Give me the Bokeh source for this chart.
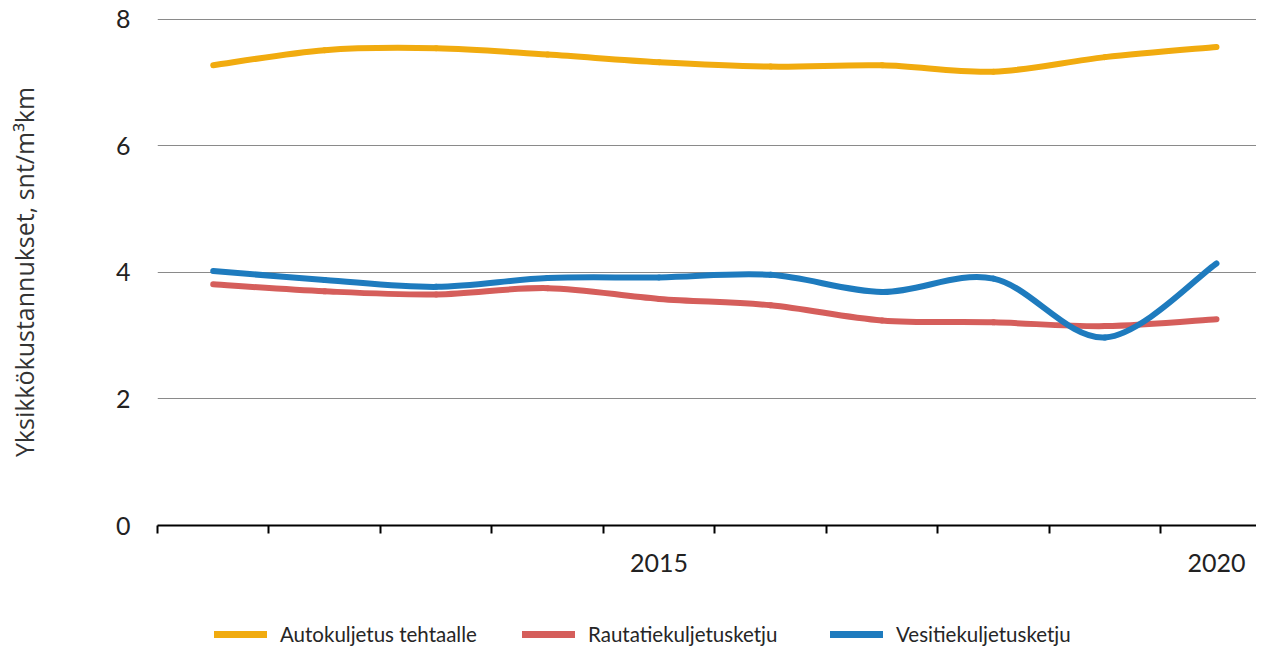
from bokeh.plotting import figure
from bokeh.layouts import column
from bokeh.models import (ColumnDataSource, Range1d, FixedTicker, Legend, LegendItem)
from bokeh.embed import file_html
from bokeh.resources import INLINE

# ---- data ----
years = [2011, 2012, 2013, 2014, 2015, 2016, 2017, 2018, 2019, 2020]
autokuljetus = [7.27, 7.51, 7.54, 7.44, 7.32, 7.25, 7.27, 7.17, 7.40, 7.56]
rautatie = [3.81, 3.70, 3.65, 3.75, 3.58, 3.48, 3.24, 3.21, 3.15, 3.26]
vesitie = [4.02, 3.88, 3.77, 3.91, 3.92, 3.96, 3.69, 3.90, 2.97, 4.14]
series_names = ["Autokuljetus tehtaalle", "Rautatiekuljetusketju", "Vesitiekuljetusketju"]
x_tick_labels = [2015, 2020]
y_ticks = [0, 2, 4, 6, 8]

colors = ["#F1AB0F", "#D55E5B", "#1E7BBE"]


def smooth_segments(xs, ys):
    """Bezier control points for a smoothed line (Catmull-Rom style, tension 1/6)."""
    n = len(xs)
    d = dict(x0=[], y0=[], x1=[], y1=[], cx0=[], cy0=[], cx1=[], cy1=[])
    for i in range(n - 1):
        xp, yp = (xs[i - 1], ys[i - 1]) if i > 0 else (xs[i], ys[i])
        xn, yn = (xs[i + 2], ys[i + 2]) if i + 2 < n else (xs[i + 1], ys[i + 1])
        d["x0"].append(xs[i]); d["y0"].append(ys[i])
        d["x1"].append(xs[i + 1]); d["y1"].append(ys[i + 1])
        d["cx0"].append(xs[i] + (xs[i + 1] - xp) / 6.0)
        d["cy0"].append(ys[i] + (ys[i + 1] - yp) / 6.0)
        d["cx1"].append(xs[i + 1] - (xn - xs[i]) / 6.0)
        d["cy1"].append(ys[i + 1] - (yn - ys[i]) / 6.0)
    return d


W = 1256
p = figure(width=W, height=600, output_backend="svg", toolbar_location=None,
           x_range=Range1d(2010.5, 2020.359), y_range=Range1d(0, 8.01),
           min_border_left=157, min_border_right=0, min_border_top=18,
           min_border_bottom=75)
p.outline_line_color = None
p.background_fill_color = "white"
p.border_fill_color = "white"

# grid
p.xgrid.visible = False
p.ygrid.ticker = FixedTicker(ticks=y_ticks)
p.ygrid.grid_line_color = "#8a8a8a"
p.ygrid.grid_line_width = 1.2

# x axis
xa = p.xaxis[0]
xa.ticker = FixedTicker(ticks=x_tick_labels, minor_ticks=[y - 0.5 for y in years])
xa.major_tick_out = 0
xa.major_tick_in = 0
xa.minor_tick_out = 8
xa.minor_tick_in = 0
xa.minor_tick_line_color = "black"
xa.minor_tick_line_width = 2
xa.axis_line_color = "black"
xa.axis_line_width = 2
xa.major_label_text_font = "Lato"
xa.major_label_text_font_size = "25px"
xa.major_label_text_color = "#222222"
xa.major_label_standoff = 20

# y axis
ya = p.yaxis[0]
ya.ticker = FixedTicker(ticks=y_ticks)
ya.axis_line_color = None
ya.major_tick_out = 0
ya.major_tick_in = 0
ya.minor_tick_out = 0
ya.minor_tick_in = 0
ya.major_label_text_font = "Lato"
ya.major_label_text_font_size = "25px"
ya.major_label_text_color = "#222222"
ya.major_label_standoff = 27
ya.axis_label = "Yksikkökustannukset, snt/m³km"
ya.axis_label_text_font = "Open Sans"
ya.axis_label_text_font_style = "normal"
ya.axis_label_text_font_size = "25px"
ya.axis_label_text_color = "#333333"
ya.axis_label_standoff = 72

for vals, col in zip([autokuljetus, rautatie, vesitie], colors):
    src = ColumnDataSource(smooth_segments(years, vals))
    p.bezier(x0="x0", y0="y0", x1="x1", y1="y1", cx0="cx0", cy0="cy0",
             cx1="cx1", cy1="cy1", source=src, line_color=col,
             line_width=6, line_cap="round")

# ---- legend strip (frame is aligned with the chart frame by the column) ----
lf = figure(width=W, height=46, output_backend="svg", toolbar_location=None,
            x_range=Range1d(0, 1), y_range=Range1d(0, 1),
            min_border_left=0, min_border_right=0, min_border_top=0,
            min_border_bottom=0)
lf.axis.visible = False
lf.grid.visible = False
lf.outline_line_color = None
lf.background_fill_color = "white"
lf.border_fill_color = "white"

items = []
nan = float("nan")
for col, name in zip(colors, series_names):
    dummy = lf.line(x=[nan], y=[nan], line_color=col, line_width=7, line_cap="round")
    items.append(LegendItem(label=name, renderers=[dummy]))

leg = Legend(items=items, location=(57, 0), orientation="horizontal",
             glyph_width=53, glyph_height=16, label_standoff=13,
             label_width=242, spacing=0,
             padding=0, margin=0, border_line_color=None,
             background_fill_alpha=0, label_text_font="Lato",
             label_text_font_size="20.5px", label_text_color="#262626",
             label_height=16)
lf.add_layout(leg)

open("out.html", "w").write(file_html(column(p, lf, spacing=0), INLINE))
